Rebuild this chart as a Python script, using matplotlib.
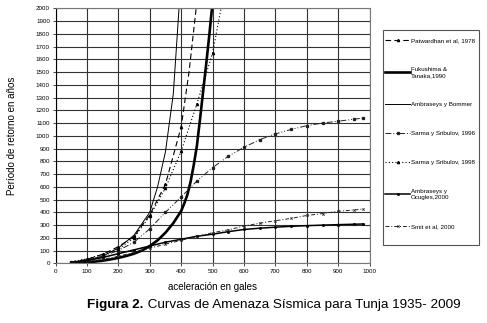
import matplotlib
import matplotlib.pyplot as plt
from matplotlib.patches import Rectangle

matplotlib.use('Agg')
plt.rcParams['font.family'] = ['Liberation Sans', 'DejaVu Sans']

# curvas de amenaza (aceleración en gales -> periodo de retorno en años)
x_bommer = [50, 100, 150, 200, 250, 300, 325, 350, 375, 400]
y_bommer = [8, 25, 55, 120, 220, 400, 600, 875, 1330, 2250]

x_patw = [50, 100, 150, 200, 250, 300, 350, 400, 425, 450]
y_patw = [10, 30, 70, 130, 210, 380, 620, 1070, 1500, 2050]

x_s98 = [50, 100, 150, 200, 250, 300, 350, 400, 450, 500, 550]
y_s98 = [12, 35, 70, 110, 200, 370, 590, 880, 1250, 1650, 2300]

x_fuku = [50, 75, 100, 125, 150, 175, 200, 225, 250, 275, 300, 325, 350, 375,
          400, 410, 420, 430, 440, 450, 460, 470, 480, 490, 500]
y_fuku = [2, 4, 8, 13, 20, 30, 42, 57, 75, 100, 135, 180, 240, 315,
          410, 470, 540, 640, 770, 920, 1130, 1350, 1570, 1800, 2050]

x_long = [50, 100, 150, 200, 250, 300, 350, 400, 450, 500,
          550, 600, 650, 700, 750, 800, 850, 900, 950, 980]
y_s96 = [8, 25, 55, 100, 165, 270, 400, 520, 645, 750,
         840, 910, 970, 1015, 1050, 1080, 1100, 1115, 1130, 1140]
y_ocug = [5, 20, 45, 75, 105, 135, 165, 188, 212, 228,
          248, 265, 275, 283, 290, 295, 299, 303, 306, 308]
y_smit = [3, 12, 30, 55, 85, 118, 150, 180, 210, 240,
          262, 292, 314, 334, 352, 375, 390, 408, 418, 426]

xticks = list(range(0, 1001, 100))
yticks = list(range(0, 2001, 100))

fig = plt.figure(figsize=(4.87, 3.23), dpi=100)
ax = fig.add_axes([0.114, 0.185, 0.645, 0.789])

k = dict(color='black', markersize=1.6)
l1, = ax.plot(x_patw, y_patw, ls=(0, (5, 3)), lw=0.8, marker='^', markevery=[0, 1, 2, 3, 4, 5, 6, 7],
              label='Patwardhan et al, 1978', **k)
l2, = ax.plot(x_fuku, y_fuku, ls='-', lw=1.9, label='Fukushima &\nTanaka,1990', color='black')
l3, = ax.plot(x_bommer, y_bommer, ls='-', lw=0.7, label='Ambraseys y Bommer', color='black')
l4, = ax.plot(x_long, y_s96, ls=(0, (6, 2, 1, 2, 1, 2)), lw=0.7, marker='s', label='Sarma y Sribulov, 1996',
              color='#222222', markersize=1.4)
l5, = ax.plot(x_s98, y_s98, ls=(0, (1, 2)), lw=0.8, marker='^', label='Sarma y Sribulov, 1998', **k)
l6, = ax.plot(x_long, y_ocug, ls='-', lw=1.1, marker='s', label='Ambraseys y\nOcugles,2000', color='black',
              markersize=1.0)
l7, = ax.plot(x_long, y_smit, ls=(0, (4, 2, 1, 2)), lw=0.7, marker='x', label='Smit et al, 2000',
              color='#222222', markersize=1.6, markeredgewidth=0.6)

ax.set_xlim(0, 1000)
ax.set_ylim(0, 2000)
ax.set_xticks(xticks)
ax.set_yticks(yticks)
ax.tick_params(labelsize=4.5, length=2, width=0.5, pad=2)
ax.grid(True, color='#333333', lw=0.8)
for s in ax.spines.values():
    s.set_color('#777777')
    s.set_linewidth(0.8)
ax.spines['left'].set_color('black')

ax.set_xlabel('aceleración en gales', fontsize=7, labelpad=6)
ax.set_ylabel('Período de retorno en años', fontsize=7, labelpad=14)

# caja de la leyenda
fig.patches.append(Rectangle((383 / 487, 1 - 245 / 323), 96 / 487, 215 / 323,
                             transform=fig.transFigure, fill=False, edgecolor='#555555', lw=0.8))
fig.legend(handles=[l1, l2, l3, l4, l5, l6, l7], loc='upper left',
           bbox_to_anchor=(385 / 487, 1 - 38 / 323), fontsize=4.5,
           frameon=False, handlelength=4.0, handletextpad=0.15, labelspacing=3.8,
           borderpad=0, borderaxespad=0)

fig.text(143 / 487, 1 - 305 / 323, 'Figura 2.', fontsize=9.7, fontweight='bold', ha='right', va='center')
fig.text(144 / 487, 1 - 305 / 323, ' Curvas de Amenaza Sísmica para Tunja 1935- 2009', fontsize=9.7,
         ha='left', va='center')

fig.savefig('out.png', dpi=100)
